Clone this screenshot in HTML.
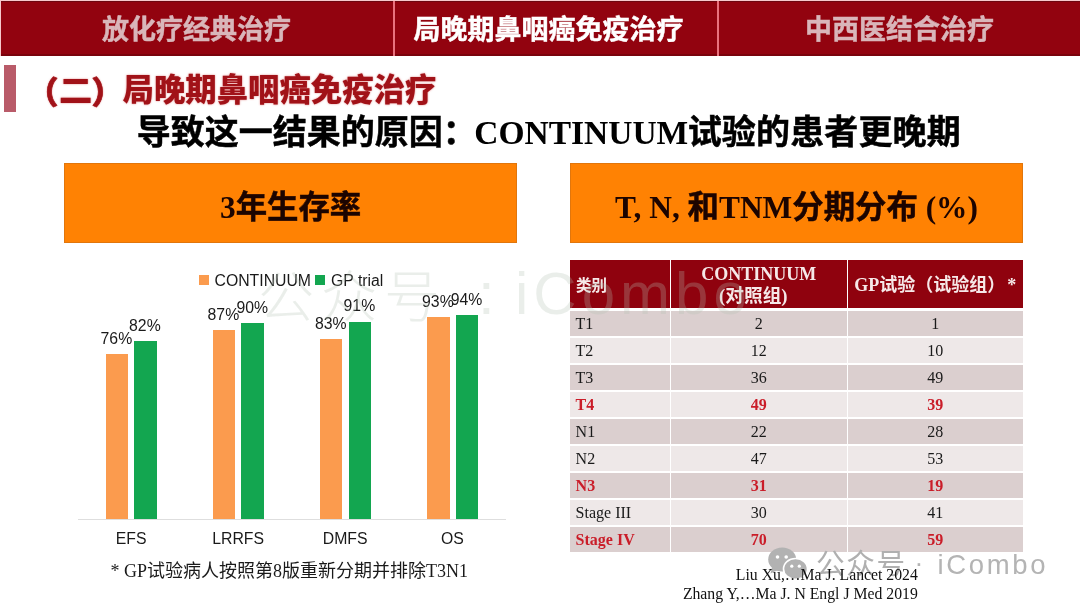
<!DOCTYPE html>
<html lang="zh">
<head>
<meta charset="utf-8">
<title>局晚期鼻咽癌免疫治疗</title>
<style>
html,body{margin:0;padding:0;}
body{width:1080px;height:608px;position:relative;overflow:hidden;background:#fff;
  font-family:"Liberation Sans","Noto Sans CJK SC",sans-serif;}
.abs{position:absolute;white-space:nowrap;}
.sans{font-family:"Liberation Sans","Noto Sans CJK SC",sans-serif;}
.serif{font-family:"Liberation Serif","Noto Serif CJK SC",serif;}
.mix{font-family:"Liberation Serif","Noto Sans CJK SC",sans-serif;}

/* top nav */
#navbg{left:0;top:0;width:1080px;height:56px;background:#f6c9cc;}
#nav{left:1px;top:1px;width:1079px;height:54.6px;background:#92030f;box-shadow:inset 0 1px 0 #6d0710, inset 0 -2px 0 #7a030c;}
#nav .sep{position:absolute;top:0;width:2px;height:54.6px;background:#e9727e;}
#nav .t{position:absolute;top:1.5px;height:55px;line-height:55px;font-size:27px;font-weight:700;text-align:center;}
#nav .dim{color:#d9b6ba;-webkit-text-stroke:0.45px #d9b6ba;}
#nav .on{color:#fff;-webkit-text-stroke:0.45px #fff;}

#accent{left:4px;top:65.3px;width:12px;height:47px;background:#b95b69;}
.h1{top:69px;font-size:31.4px;line-height:44px;font-weight:900;color:#a11218;text-shadow:0 0 2px rgba(200,40,40,.6);}
#h2{left:136.7px;top:108px;font-size:34px;line-height:48px;font-weight:700;color:#000;-webkit-text-stroke:0.5px #000;}
#h2 .en{font-family:"Liberation Serif",serif;font-size:33.5px;margin-left:-2.5px;margin-right:-0.5px;-webkit-text-stroke:0;}
#h2 .tl{letter-spacing:0.15px;}

.obox{background:#ff8203;height:79.8px;top:162.9px;text-align:center;line-height:89px;font-weight:700;color:#1c0400;box-shadow:inset 0 0 0 1px rgba(200,110,20,.55);-webkit-text-stroke:0.5px #1c0400;}
#ob1{left:63.9px;width:453.4px;font-size:31.4px;}
#ob2{left:569.6px;width:453.7px;font-size:31.4px;}
.obox .en{-webkit-text-stroke:0;}

/* chart */
.bar{position:absolute;width:22.5px;}
.o{background:#fb9b4e;}
.g{background:#13a650;}
.ct{font-size:15.8px;line-height:18px;color:#1a1a1a;}
.lab{position:absolute;font-size:15.8px;line-height:16px;color:#1a1a1a;width:60px;text-align:center;white-space:nowrap;}
.xl{position:absolute;font-size:15.8px;line-height:16px;color:#1a1a1a;width:100px;text-align:center;top:531px;}
#axis{left:78px;top:518.6px;width:428px;height:1px;background:#dedede;}
#note{left:110.5px;top:559px;font-size:18px;line-height:24px;color:#1a1a1a;}

/* table */
#tbl{left:570.4px;top:259.7px;width:452.2px;}
.row{position:absolute;left:0;width:452.2px;height:25.4px;}
.row div{position:absolute;top:0;height:100%;}
.c1{left:0;width:99.2px;}
.c2{left:100.7px;width:175.5px;text-align:center;}
.c3{left:277.6px;width:174.6px;text-align:center;}
.hd div{background:#8f020e;color:#f6e8e8;font-weight:700;}
.dk div{background:#dbcfcf;}
.lt div{background:#eee8e8;}
.row.bd{font-family:"Liberation Serif",serif;font-size:16px;line-height:25.4px;color:#1a1a1a;}
.row.bd .c1{text-indent:5.2px;}
.red{color:#ca1d29 !important;font-weight:700;}

#refs{right:162.2px;top:565.3px;text-align:right;font-family:"Liberation Serif",serif;font-size:15.75px;line-height:19px;color:#111;}
#wm{left:766px;top:545px;height:36px;}
#wm svg{position:absolute;left:0;top:1px;}
#wm .w1{position:absolute;left:50px;top:-1px;font-size:28.6px;line-height:36px;letter-spacing:1.7px;color:#b0b0b0;font-weight:400;font-family:"Noto Sans CJK SC","Liberation Sans",sans-serif;}
#wm .w2{position:absolute;left:148.5px;top:-0.5px;font-size:26.5px;line-height:36px;color:#b4b4b4;font-family:"Liberation Sans",sans-serif;}
#wm .w3{position:absolute;left:171.5px;top:2px;font-size:27.5px;line-height:36px;letter-spacing:2.65px;color:#b4b4b4;font-family:"Liberation Sans",sans-serif;}
.bigwm{top:255px;font-size:56px;line-height:76px;letter-spacing:7px;color:#b4c2b4;opacity:.27;font-weight:300;font-family:"Noto Sans CJK SC","Liberation Sans",sans-serif;}
.bigwm.e{font-family:"Liberation Sans",sans-serif;font-size:60px;letter-spacing:5px;top:256px;}
</style>
</head>
<body>

<div id="navbg" class="abs"></div>
<div id="nav" class="abs">
  <div class="t dim" style="left:-1px;width:393px;">放化疗经典治疗</div>
  <div class="sep" style="left:392px;"></div>
  <div class="t on" style="left:394px;width:307px;">局晚期鼻咽癌免疫治疗</div>
  <div class="sep" style="left:716px;"></div>
  <div class="t dim" style="left:718px;width:361px;">中西医结合治疗</div>
</div>

<div id="accent" class="abs"></div>
<div class="abs h1" style="left:27px;top:72px;-webkit-text-stroke:0.7px #a11218;">（</div>
<div class="abs h1" style="left:60px;top:69.5px;transform:scaleX(1.06);transform-origin:50% 50%;">二</div>
<div class="abs h1" style="left:91.5px;top:72px;-webkit-text-stroke:0.7px #a11218;">）</div>
<div class="abs h1" style="left:122.5px;">局晚期鼻咽癌免疫治疗</div>
<div id="h2" class="abs">导致这一结果的原因：<span class="en">CONTINUUM</span><span class="tl">试验的患者更晚期</span></div>

<div id="ob1" class="abs obox mix"><span class="en">3</span>年生存率</div>
<div id="ob2" class="abs obox mix"><span class="en">T, N, </span>和<span class="en">TNM</span>分期分布<span class="en"> (%)</span></div>

<!-- chart -->
<div id="chart">
  <div class="abs" style="left:198.8px;top:275px;width:10px;height:10px;background:#fb9b4e;"></div>
  <div class="abs ct" style="left:214.5px;top:272px;">CONTINUUM</div>
  <div class="abs" style="left:315px;top:275px;width:10px;height:10px;background:#13a650;"></div>
  <div class="abs ct" style="left:331px;top:272px;">GP trial</div>
  <div class="bar o" style="left:105.6px;top:353.8px;height:164.8px;"></div>
  <div class="bar g" style="left:134.1px;top:340.8px;height:177.8px;"></div>
  <div class="bar o" style="left:212.6px;top:330.0px;height:188.6px;"></div>
  <div class="bar g" style="left:241.4px;top:323.3px;height:195.3px;"></div>
  <div class="bar o" style="left:319.8px;top:338.9px;height:179.7px;"></div>
  <div class="bar g" style="left:348.5px;top:321.6px;height:197.0px;"></div>
  <div class="bar o" style="left:427.0px;top:317.1px;height:201.5px;"></div>
  <div class="bar g" style="left:455.6px;top:314.9px;height:203.7px;"></div>
  <div id="axis" class="abs"></div>
  <div class="lab" style="left:86.4px;top:330.6px;">76%</div>
  <div class="lab" style="left:114.9px;top:317.6px;">82%</div>
  <div class="lab" style="left:193.4px;top:306.8px;">87%</div>
  <div class="lab" style="left:222.2px;top:300.1px;">90%</div>
  <div class="lab" style="left:300.7px;top:315.7px;">83%</div>
  <div class="lab" style="left:329.4px;top:298.4px;">91%</div>
  <div class="lab" style="left:407.9px;top:293.9px;">93%</div>
  <div class="lab" style="left:436.5px;top:291.7px;">94%</div>
  <div class="xl" style="left:81.2px;">EFS</div>
  <div class="xl" style="left:188.1px;">LRRFS</div>
  <div class="xl" style="left:295.2px;">DMFS</div>
  <div class="xl" style="left:402.3px;">OS</div>
</div>
<div id="note" class="abs mix">* GP试验病人按照第8版重新分期并排除T3N1</div>

<!-- table -->
<div id="tbl" class="abs">
  <div class="row hd" style="top:0;height:48.3px;">
    <div class="c1 sans" style="font-size:15.5px;line-height:51px;text-indent:5.5px;">类别</div>
    <div class="c2 mix" style="font-size:18px;line-height:22px;"><span style="display:block;padding-top:3px;">CONTINUUM<br><span style="position:relative;left:-5.5px;font-size:18.7px;">(对照组)</span></span></div>
    <div class="c3 mix" style="font-size:18px;line-height:51px;">GP试验（试验组） <span style="margin-left:-2.5px;">*</span></div>
  </div>
  <div class="row bd dk" style="top:50.90px;"><div class="c1">T1</div><div class="c2">2</div><div class="c3">1</div></div>
  <div class="row bd lt" style="top:77.95px;"><div class="c1">T2</div><div class="c2">12</div><div class="c3">10</div></div>
  <div class="row bd dk" style="top:105.00px;"><div class="c1">T3</div><div class="c2">36</div><div class="c3">49</div></div>
  <div class="row bd lt" style="top:132.05px;"><div class="c1 red">T4</div><div class="c2 red">49</div><div class="c3 red">39</div></div>
  <div class="row bd dk" style="top:159.10px;"><div class="c1">N1</div><div class="c2">22</div><div class="c3">28</div></div>
  <div class="row bd lt" style="top:186.15px;"><div class="c1">N2</div><div class="c2">47</div><div class="c3">53</div></div>
  <div class="row bd dk" style="top:213.20px;"><div class="c1 red">N3</div><div class="c2 red">31</div><div class="c3 red">19</div></div>
  <div class="row bd lt" style="top:240.25px;"><div class="c1">Stage III</div><div class="c2">30</div><div class="c3">41</div></div>
  <div class="row bd dk" style="top:267.30px;"><div class="c1 red">Stage IV</div><div class="c2 red">70</div><div class="c3 red">59</div></div>
</div>

<div class="abs bigwm" style="left:258px;">公众号</div>
<div class="abs bigwm e" style="left:478px;">:</div>
<div class="abs bigwm e" style="left:515px;">iCombo</div>

<div id="wm" class="abs">
  <svg width="46" height="36" viewBox="0 0 46 36">
    <g fill="#b2b2b2">
      <ellipse cx="16.2" cy="13.5" rx="14" ry="12"/>
      <path d="M6 21 L4.5 27.5 L12 24 Z"/>
    </g>
    <g fill="#b2b2b2" stroke="#fff" stroke-width="1.6">
      <path d="M29.5 12.5 C36.4 12.5 41.5 17.2 41.5 23 C41.5 25.9 40.1 28.4 37.8 30.2 L38.6 34 L34.6 32.2 C33 32.8 31.3 33.2 29.5 33.2 C22.6 33.2 17.5 28.6 17.5 23 C17.5 17.2 22.6 12.5 29.5 12.5 Z"/>
    </g>
    <g fill="#fff">
      <circle cx="11.5" cy="11" r="1.8"/><circle cx="20.2" cy="11" r="1.8"/>
      <circle cx="25.8" cy="20.2" r="1.6"/><circle cx="33.3" cy="20.2" r="1.6"/>
    </g>
  </svg>
  <div class="w1">公众号</div><div class="w2">·</div><div class="w3">iCombo</div>
</div>

<div id="refs" class="abs">Liu Xu,…Ma J. Lancet 2024<br>Zhang Y,…Ma J. N Engl J Med 2019</div>

</body>
</html>
